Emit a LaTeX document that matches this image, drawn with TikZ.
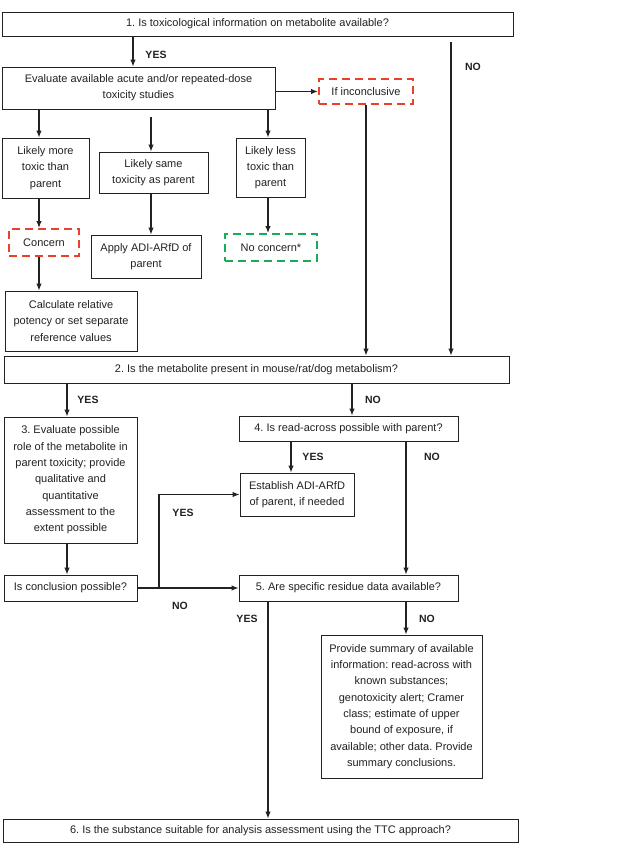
\documentclass[tikz,border=0pt]{standalone}
\usepackage{fontspec}
\setmainfont{Liberation Sans}
\usetikzlibrary{arrows.meta}
\definecolor{dred}{HTML}{E8412C}
\definecolor{dgreen}{HTML}{1AAA5A}
\definecolor{ink}{HTML}{222222}
\frenchspacing
\begin{document}
\begin{tikzpicture}[x=1pt,y=-1pt,
  box/.style={draw=ink, line width=0.8pt, align=center, inner sep=0pt,
    text=ink, font=\frenchspacing\fontsize{11}{16.3}\selectfont},
  redbox/.style={box, draw=dred, line width=2pt, dash pattern=on 8pt off 5pt},
  greenbox/.style={box, draw=dgreen, line width=2pt, dash pattern=on 8pt off 5pt},
  arr/.style={draw=ink, line width=1.2pt, -{Latex[length=7pt,width=5.5pt]}},
  ln/.style={draw=ink, line width=1.2pt},
  lbl/.style={text=ink, font=\fontsize{10.5}{12}\bfseries\selectfont, inner sep=0pt}]
\useasboundingbox (0,0) rectangle (625,851);
\fill[white] (0,0) rectangle (625,851);

% boxes
\node[box, minimum width=511, minimum height=24] (b1) at (257.5,24) {1. Is toxicological information on metabolite available?};
\node[box, minimum width=273, minimum height=42] (eval) at (138.5,88) {Evaluate available acute and/or repeated-dose\\toxicity studies};
\node[redbox, minimum width=94, minimum height=25] (inconc) at (366,91.5) {If inconclusive};
\node[box, minimum width=87, minimum height=60] (more) at (45.5,168) {Likely more\\toxic than\\parent};
\node[box, minimum width=109, minimum height=41] (same) at (153.5,172.5) {Likely same\\toxicity as parent};
\node[box, minimum width=69, minimum height=59] (less) at (270.5,167.5) {Likely less\\toxic than\\parent};
\node[redbox, minimum width=70, minimum height=27] (concern) at (44,242.5) {Concern};
\node[box, minimum width=110, minimum height=43] (apply) at (146,256.5) {Apply ADI-ARfD of\\parent};
\node[greenbox, minimum width=92, minimum height=27] (nocon) at (271,247.5) {No concern*};
\node[box, minimum width=132, minimum height=60] (calc) at (71,321) {Calculate relative\\potency or set separate\\reference values};
\node[box, minimum width=505, minimum height=27] (b2) at (256.5,369.5) {2. Is the metabolite present in mouse/rat/dog metabolism?};
\node[box, minimum width=133, minimum height=126] (b3) at (70.5,480) {3. Evaluate possible\\role of the metabolite in\\parent toxicity; provide\\qualitative and\\quantitative\\assessment to the\\extent possible};
\node[box, minimum width=219, minimum height=25] (b4) at (348.5,428.5) {4. Is read-across possible with parent?};
\node[box, minimum width=114, minimum height=43] (est) at (297,494.5) {Establish ADI-ARfD\\of parent, if needed};
\node[box, minimum width=133, minimum height=26] (concl) at (70.5,588) {Is conclusion possible?};
\node[box, minimum width=219, minimum height=26] (b5) at (348.5,588) {5. Are specific residue data available?};
\node[box, minimum width=161, minimum height=143] (summ) at (401.5,706.5) {Provide summary of available\\information: read-across with\\known substances;\\genotoxicity alert; Cramer\\class; estimate of upper\\bound of exposure, if\\available; other data. Provide\\summary conclusions.};
\node[box, minimum width=515, minimum height=23] (b6) at (260.5,830.5) {6. Is the substance suitable for analysis assessment using the TTC approach?};

% free ends
\coordinate (nostart) at (451,42);
\coordinate (samestart) at (151,117);
\coordinate (br) at (159,588);

% connectors
\draw[arr] (133,0 |- b1.south) -- (133,0 |- eval.north);
\draw[arr] (eval.east |- inconc.west) -- (inconc.west);
\draw[arr] (nostart) -- (451,0 |- b2.north);
\draw[arr] (39,0 |- eval.south) -- (39,0 |- more.north);
\draw[arr] (samestart) -- (151,0 |- same.north);
\draw[arr] (268,0 |- eval.south) -- (268,0 |- less.north);
\draw[arr] (366,0 |- inconc.south) -- (366,0 |- b2.north);
\draw[arr] (39,0 |- more.south) -- (39,0 |- concern.north);
\draw[arr] (151,0 |- same.south) -- (151,0 |- apply.north);
\draw[arr] (268,0 |- less.south) -- (268,0 |- nocon.north);
\draw[arr] (39,0 |- concern.south) -- (39,0 |- calc.north);
\draw[arr] (67,0 |- b2.south) -- (67,0 |- b3.north);
\draw[arr] (352,0 |- b2.south) -- (352,0 |- b4.north);
\draw[arr] (291,0 |- b4.south) -- (291,0 |- est.north);
\draw[arr] (406,0 |- b4.south) -- (406,0 |- b5.north);
\draw[arr] (67,0 |- b3.south) -- (67,0 |- concl.north);
\draw[arr] (concl.east) -- (b5.west);
\draw[arr] (br) |- (est.west);
\draw[arr] (268,0 |- b5.south) -- (268,0 |- b6.north);
\draw[arr] (406,0 |- b5.south) -- (406,0 |- summ.north);

% labels
\node[lbl] (l1) at (156,55) {YES};
\node[lbl] (l2) at (473,67) {NO};
\node[lbl] (l3) at (88,400) {YES};
\node[lbl] (l4) at (373,400) {NO};
\node[lbl] (l5) at (313,457) {YES};
\node[lbl] (l6) at (432,457) {NO};
\node[lbl] (l7) at (183,513) {YES};
\node[lbl] (l8) at (180,606) {NO};
\node[lbl] (l9) at (247,619) {YES};
\node[lbl] (l10) at (427,619) {NO};
\end{tikzpicture}
\end{document}
